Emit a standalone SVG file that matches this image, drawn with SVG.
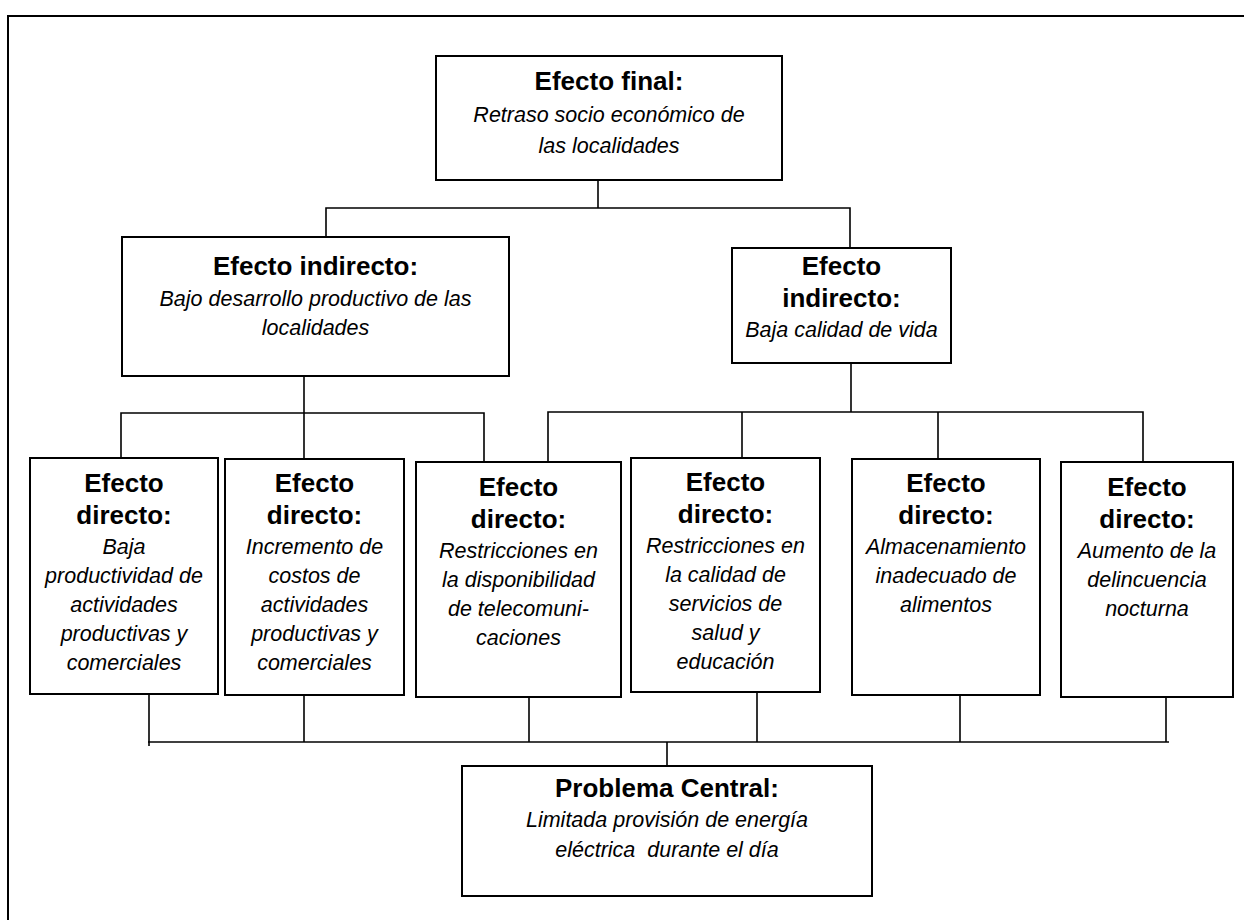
<svg xmlns="http://www.w3.org/2000/svg" width="1244" height="920" viewBox="0 0 1244 920">
  <style>
    .box { fill: #ffffff; stroke: #000000; stroke-width: 2; }
    .frame { fill: none; stroke: #000000; stroke-width: 2; }
    .wire { fill: none; stroke: #000000; stroke-width: 1.6; }
    text { font-family: "Liberation Sans", Arial, sans-serif; fill: #000000; text-anchor: middle; }
    .h { font-size: 26px; font-weight: bold; }
    .b { font-size: 21.5px; font-style: italic; }
    .pre { white-space: pre; }
  </style>

  <rect width="1244" height="920" fill="#ffffff"/>

  <!-- page frame (open on the right and bottom) -->
  <path class="frame" d="M8,920 V16 H1244"/>

  <!-- tree connectors -->
  <g id="connectors">
    <!-- final effect to indirect effects -->
    <path class="wire" d="M598,180 V208"/>
    <path class="wire" d="M326,237 V208 H850 V248"/>
    <!-- left indirect effect to its direct effects -->
    <path class="wire" d="M304,376 V413"/>
    <path class="wire" d="M121,458 V413 H484 V462"/>
    <path class="wire" d="M304,413 V459"/>
    <!-- right indirect effect to its direct effects -->
    <path class="wire" d="M851,363 V412"/>
    <path class="wire" d="M548,462 V412 H1143 V462"/>
    <path class="wire" d="M742,412 V458"/>
    <path class="wire" d="M938,412 V459"/>
    <!-- direct effects down to the central problem -->
    <path class="wire" d="M149,746 V694"/>
    <path class="wire" d="M148,742 H1169"/>
    <path class="wire" d="M304,695 V742"/>
    <path class="wire" d="M529,697 V742"/>
    <path class="wire" d="M757,692 V742"/>
    <path class="wire" d="M960,695 V742"/>
    <path class="wire" d="M1166,697 V742"/>
    <path class="wire" d="M667,742 V766"/>
  </g>

  <!-- level 1 -->
  <g id="efecto-final">
    <rect class="box" x="436" y="56" width="346" height="124"/>
    <text class="h" x="609" y="90">Efecto final:</text>
    <text class="b" x="609" y="122">Retraso socio económico de</text>
    <text class="b" x="609" y="153">las localidades</text>
  </g>

  <!-- level 2 -->
  <g id="indirecto-productivo">
    <rect class="box" x="122" y="237" width="387" height="139"/>
    <text class="h" x="315.5" y="275">Efecto indirecto:</text>
    <text class="b" x="315.5" y="306">Bajo desarrollo productivo de las</text>
    <text class="b" x="315.5" y="335">localidades</text>
  </g>

  <g id="indirecto-vida">
    <rect class="box" x="732" y="248" width="219" height="115"/>
    <text class="h" x="841.5" y="275">Efecto</text>
    <text class="h" x="841.5" y="307">indirecto:</text>
    <text class="b" x="841.5" y="337">Baja calidad de vida</text>
  </g>

  <!-- level 3 -->
  <g id="directo-productividad">
    <rect class="box" x="30" y="458" width="188" height="236"/>
    <text class="h" x="124" y="492">Efecto</text>
    <text class="h" x="124" y="524">directo:</text>
    <text class="b" x="124" y="554">Baja</text>
    <text class="b" x="124" y="583">productividad de</text>
    <text class="b" x="124" y="612">actividades</text>
    <text class="b" x="124" y="641">productivas y</text>
    <text class="b" x="124" y="670">comerciales</text>
  </g>

  <g id="directo-costos">
    <rect class="box" x="225" y="459" width="179" height="236"/>
    <text class="h" x="314.5" y="492">Efecto</text>
    <text class="h" x="314.5" y="524">directo:</text>
    <text class="b" x="314.5" y="554">Incremento de</text>
    <text class="b" x="314.5" y="583">costos de</text>
    <text class="b" x="314.5" y="612">actividades</text>
    <text class="b" x="314.5" y="641">productivas y</text>
    <text class="b" x="314.5" y="670">comerciales</text>
  </g>

  <g id="directo-telecom">
    <rect class="box" x="416" y="462" width="205" height="235"/>
    <text class="h" x="518.5" y="496">Efecto</text>
    <text class="h" x="518.5" y="528">directo:</text>
    <text class="b" x="518.5" y="558">Restricciones en</text>
    <text class="b" x="518.5" y="587">la disponibilidad</text>
    <text class="b" x="518.5" y="616">de telecomuni-</text>
    <text class="b" x="518.5" y="645">caciones</text>
  </g>

  <g id="directo-salud">
    <rect class="box" x="631" y="458" width="189" height="234"/>
    <text class="h" x="725.5" y="491">Efecto</text>
    <text class="h" x="725.5" y="523">directo:</text>
    <text class="b" x="725.5" y="553">Restricciones en</text>
    <text class="b" x="725.5" y="582">la calidad de</text>
    <text class="b" x="725.5" y="611">servicios de</text>
    <text class="b" x="725.5" y="640">salud y</text>
    <text class="b" x="725.5" y="669">educación</text>
  </g>

  <g id="directo-alimentos">
    <rect class="box" x="852" y="459" width="188" height="236"/>
    <text class="h" x="946" y="492">Efecto</text>
    <text class="h" x="946" y="524">directo:</text>
    <text class="b" x="946" y="554">Almacenamiento</text>
    <text class="b" x="946" y="583">inadecuado de</text>
    <text class="b" x="946" y="612">alimentos</text>
  </g>

  <g id="directo-delincuencia">
    <rect class="box" x="1061" y="462" width="172" height="235"/>
    <text class="h" x="1147" y="496">Efecto</text>
    <text class="h" x="1147" y="528">directo:</text>
    <text class="b" x="1147" y="558">Aumento de la</text>
    <text class="b" x="1147" y="587">delincuencia</text>
    <text class="b" x="1147" y="616">nocturna</text>
  </g>

  <!-- root -->
  <g id="problema-central">
    <rect class="box" x="462" y="766" width="410" height="130"/>
    <text class="h" x="667" y="797">Problema Central:</text>
    <text class="b" x="667" y="827">Limitada provisión de energía</text>
    <text class="b pre" x="667" y="857">eléctrica  durante el día</text>
  </g>
</svg>
